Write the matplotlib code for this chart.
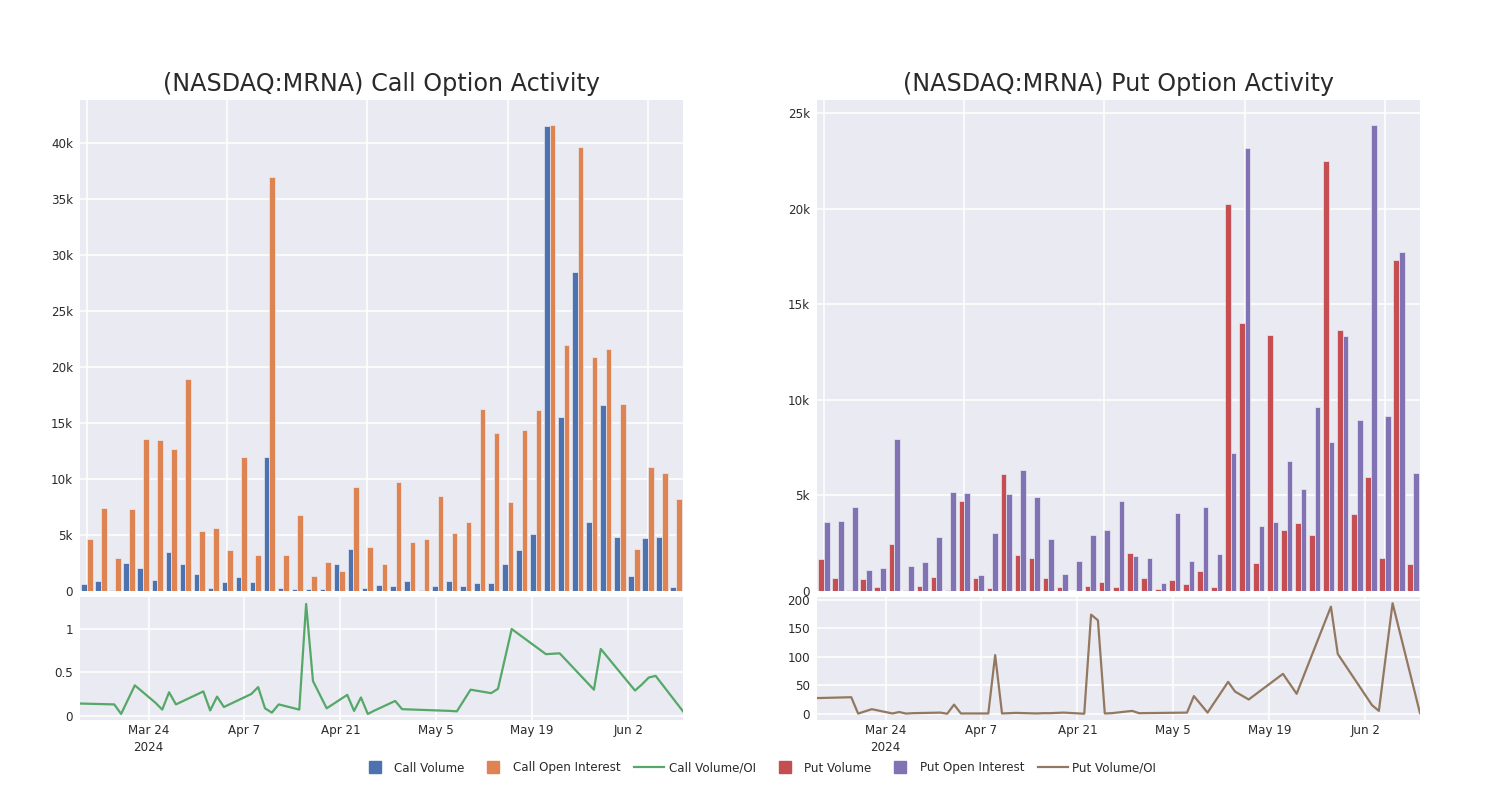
import matplotlib
matplotlib.use("Agg")
import matplotlib.pyplot as plt
from matplotlib.lines import Line2D
import pandas as pd
import numpy as np

plt.rcParams['font.family'] = ['DejaVu Sans']

dates = ["2024-03-14", "2024-03-19", "2024-03-20", "2024-03-22", "2024-03-25", "2024-03-26",
         "2024-03-27", "2024-03-28", "2024-04-01", "2024-04-02", "2024-04-03", "2024-04-04",
         "2024-04-08", "2024-04-09", "2024-04-10", "2024-04-11", "2024-04-12", "2024-04-15",
         "2024-04-16", "2024-04-17", "2024-04-19", "2024-04-22", "2024-04-23", "2024-04-24",
         "2024-04-25", "2024-04-26", "2024-04-29", "2024-04-30", "2024-05-07", "2024-05-08",
         "2024-05-10", "2024-05-13", "2024-05-14", "2024-05-16", "2024-05-21", "2024-05-23",
         "2024-05-28", "2024-05-29", "2024-06-03", "2024-06-04", "2024-06-05", "2024-06-06",
         "2024-06-10"]

call_volume = [600, 860, 60, 2500, 2060, 950, 3490, 2410, 1460, 270, 770, 1220, 750, 11950,
               200, 180, 120, 150, 2350, 3700, 270, 500, 450, 900, 60, 450, 830, 420, 690, 660,
               2350, 3670, 5040, 41580, 15530, 28460, 6140, 16570, 4770, 1310, 4740, 4830, 360]
call_oi = [4650, 7360, 2920, 7270, 13600, 13500, 12640, 18960, 5300, 5570, 3600, 11980, 3160,
           37000, 3160, 6770, 1340, 2600, 1790, 9240, 3870, 2410, 9720, 4350, 4650, 8500, 5200,
           6170, 16270, 14130, 7960, 14370, 16150, 41670, 22000, 39640, 20860, 21600, 16720,
           3730, 11030, 10520, 8230]
call_ratio = [0.14, 0.13, 0.02, 0.35, 0.15, 0.07, 0.27, 0.13, 0.28, 0.06, 0.22, 0.10, 0.25,
              0.33, 0.085, 0.035, 0.13, 0.07, 1.29, 0.40, 0.085, 0.24, 0.055, 0.21, 0.02, 0.06,
              0.17, 0.075, 0.055, 0.05, 0.30, 0.26, 0.31, 1.0, 0.71, 0.72, 0.30, 0.77, 0.29,
              0.36, 0.44, 0.46, 0.05]

put_volume = [1640, 680, 30, 610, 210, 2430, 20, 240, 720, 50, 4680, 660, 160, 6110, 1870, 1690,
              650, 190, 0, 240, 450, 210, 1950, 660, 70, 580, 350, 1010, 210, 20260, 14000, 1430,
              13370, 3180, 3560, 2910, 22480, 13680, 4000, 5950, 1710, 17330, 1400]
put_oi = [3580, 3670, 4400, 1080, 1190, 7940, 1270, 1520, 2830, 5170, 5130, 800, 3040, 5060,
          6340, 4920, 2710, 870, 1550, 2930, 3180, 4710, 1800, 1690, 380, 4080, 1550, 4400, 1920,
          7210, 23200, 3390, 3600, 6790, 5310, 9620, 7770, 13330, 8920, 24400, 9150, 17750, 6180]
put_ratio = [27.5, 29, 0.3, 8, 0.5, 3, 0.3, 1, 2, 0, 16, 0.5, 0.5, 103, 0.5, 1, 1.5, 0.5, 1, 1, 2,
             0, 174, 164, 0.5, 1, 5, 1, 2, 31, 2, 56, 39, 25, 70, 35, 188, 105, 15, 5, 100, 194, 1]

x_date_ticks = ["2024-03-24", "2024-04-07", "2024-04-21", "2024-05-05", "2024-05-19", "2024-06-02"]
x_date_labels = ["Mar 24\n2024", "Apr 7", "Apr 21", "May 5", "May 19", "Jun 2"]
call_yticks = [0, 5000, 10000, 15000, 20000, 25000, 30000, 35000, 40000]
put_yticks = [0, 5000, 10000, 15000, 20000, 25000]
call_ratio_ticks = [0, 0.5, 1]
put_ratio_ticks = [0, 50, 100, 150, 200]

BG = '#EAEAF2'
TXT = '#2a2a2a'
C_BLUE, C_ORANGE, C_GREEN = '#4C72B0', '#DD8452', '#55A868'
C_RED, C_PURPLE, C_BROWN = '#C44E52', '#8172B3', '#937860'

W, H = 1500, 800
fig = plt.figure(figsize=(15, 8), dpi=100)
fig.patch.set_facecolor('white')

def fx(px):
    return px / W

def fy(py):
    return 1 - py / H

def kfmt(v):
    return '0' if v == 0 else f"{int(v/1000)}k"

def num_fmt(v):
    if float(v).is_integer():
        return str(int(v))
    return str(v)

def style(ax):
    ax.set_facecolor(BG)
    for s in ax.spines.values():
        s.set_visible(False)
    ax.grid(True, color='white', linewidth=1.1)
    ax.set_axisbelow(True)
    ax.tick_params(length=0, labelsize=8.6, colors=TXT, pad=5)

dt = pd.to_datetime(dates)
date_ticks = pd.to_datetime(x_date_ticks)
idx = np.arange(len(dates))
bw = 0.4

panels = [
    (80, "(NASDAQ:MRNA) Call Option Activity", call_volume, call_oi, C_BLUE, C_ORANGE,
     call_yticks, 43870, call_ratio, C_GREEN, call_ratio_ticks, (-0.05, 1.37)),
    (817, "(NASDAQ:MRNA) Put Option Activity", put_volume, put_oi, C_RED, C_PURPLE,
     put_yticks, 25700, put_ratio, C_BROWN, put_ratio_ticks, (-11, 205)),
]

for (left, title, vol, oi, cv, co, yt, ytop, ratio, cr, rt, rlim) in panels:
    axw = 603
    ax = fig.add_axes([fx(left), fy(590.7), fx(axw), (590.7 - 100) / H])
    style(ax)
    ax.bar(idx - bw / 2, vol, width=bw, color=cv, edgecolor=BG, linewidth=0.5)
    ax.bar(idx + bw / 2, oi, width=bw, color=co, edgecolor=BG, linewidth=0.5)
    ax.set_xlim(-0.5, len(dates) - 0.5)
    ax.set_ylim(0, ytop)
    ax.set_xticks([0, 10, 20, 30, 40])
    ax.set_xticklabels([])
    ax.set_yticks(yt)
    ax.set_yticklabels([kfmt(v) for v in yt])
    fig.text(fx(left + axw / 2), fy(84), title, ha='center', va='center', fontsize=17.2, color=TXT)

    ax2 = fig.add_axes([fx(left), fy(720), fx(axw), (720 - 597) / H])
    style(ax2)
    ax2.plot(dt, ratio, color=cr, linewidth=1.6)
    ax2.set_xlim(pd.Timestamp("2024-03-14"), pd.Timestamp("2024-06-10"))
    ax2.set_ylim(*rlim)
    ax2.set_xticks(date_ticks)
    ax2.set_xticklabels(x_date_labels, linespacing=1.4)
    ax2.set_yticks(rt)
    ax2.set_yticklabels([num_fmt(v) for v in rt])
    ax2.tick_params(axis='x', pad=3)

handles = [
    Line2D([], [], marker='s', linestyle='none', markersize=9, color=C_BLUE),
    Line2D([], [], marker='s', linestyle='none', markersize=9, color=C_ORANGE),
    Line2D([], [], color=C_GREEN, linewidth=1.6),
    Line2D([], [], marker='s', linestyle='none', markersize=9, color=C_RED),
    Line2D([], [], marker='s', linestyle='none', markersize=9, color=C_PURPLE),
    Line2D([], [], color=C_BROWN, linewidth=1.6),
]
labels = ["Call Volume", "Call Open Interest", "Call Volume/OI",
          "Put Volume", "Put Open Interest", "Put Volume/OI"]
fig.legend(handles, labels, loc='center', bbox_to_anchor=(fx(758), fy(768)), ncol=6,
           frameon=False, fontsize=8.6, handlelength=2.5, handletextpad=0.35,
           columnspacing=1.2, labelcolor=TXT)

fig.savefig("out.png", dpi=100, facecolor='white')
